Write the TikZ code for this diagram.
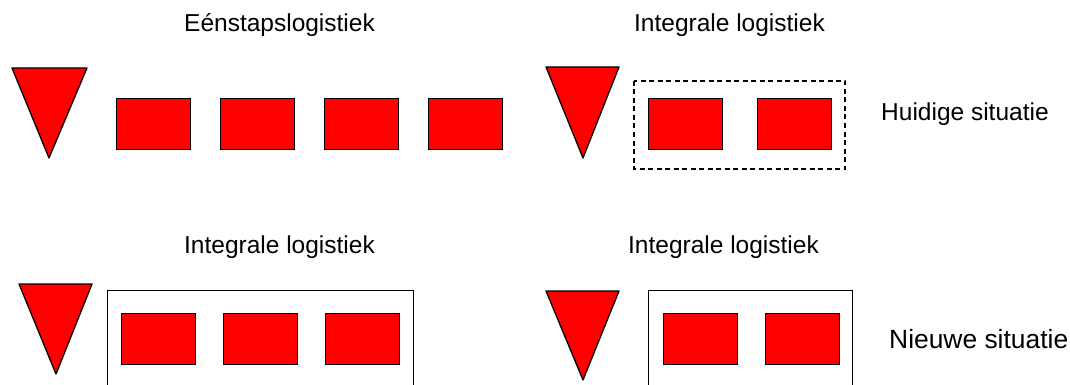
\documentclass[tikz,border=0pt]{standalone}
\usepackage{fontspec}
\setmainfont{Liberation Sans}
\begin{document}
\begin{tikzpicture}[x=1pt,y=-1pt,
  block/.style={draw=black,line width=1.3pt,fill=red,minimum width=74pt,minimum height=51pt,inner sep=0pt,anchor=north west},
  funnel/.style={draw=black,line width=1.3pt,fill=red,line join=round},
  frame/.style={draw=black,line width=1pt},
  title/.style={font=\fontsize{24.5}{28}\selectfont,anchor=base,inner sep=0pt},
  sidelabel/.style={anchor=base west,inner sep=0pt}]
\useasboundingbox (0,0) rectangle (1070,385);
\clip (0,0) rectangle (1070,385);

% Top row: single-stage logistics
\node[title] (t1) at (279.5,32) {Eénstapslogistiek};
\draw[funnel] (12,68) -- (87,68) -- (49,158) -- cycle;
\node[block] (a1) at (116,98) {};
\node[block] (a2) at (220,98) {};
\node[block] (a3) at (324,98) {};
\node[block] (a4) at (428,98) {};

% Top row: integral logistics (current)
\node[title] (t2) at (729.5,32) {Integrale logistiek};
\draw[funnel] (546,67) -- (619,67) -- (583,158) -- cycle;
\draw[frame,line width=1.4pt,dash pattern=on 5pt off 3.5pt] (634,81) rectangle (845,169);
\node[block] (b1) at (648,98) {};
\node[block] (b2) at (757,98) {};
\node[sidelabel,font=\fontsize{24.5}{28}\selectfont] (cur) at (881,121) {Huidige situatie};

% Bottom row: integral logistics, three stages
\node[title] (t3) at (279.5,253) {Integrale logistiek};
\draw[funnel] (19,284) -- (92,284) -- (56,374) -- cycle;
\draw[frame] (107,290) rectangle (413,395);
\node[block] (c1) at (121,313) {};
\node[block] (c2) at (223,313) {};
\node[block] (c3) at (325,313) {};

% Bottom row: integral logistics, two stages (new)
\node[title] (t4) at (723.5,253) {Integrale logistiek};
\draw[funnel] (546,291) -- (619,291) -- (583,380) -- cycle;
\draw[frame] (648,290) rectangle (852,395);
\node[block] (d1) at (663,313) {};
\node[block] (d2) at (765,313) {};
\node[sidelabel,font=\fontsize{26.4}{30}\selectfont] (new) at (889,348) {Nieuwe situatie};
\end{tikzpicture}
\end{document}
